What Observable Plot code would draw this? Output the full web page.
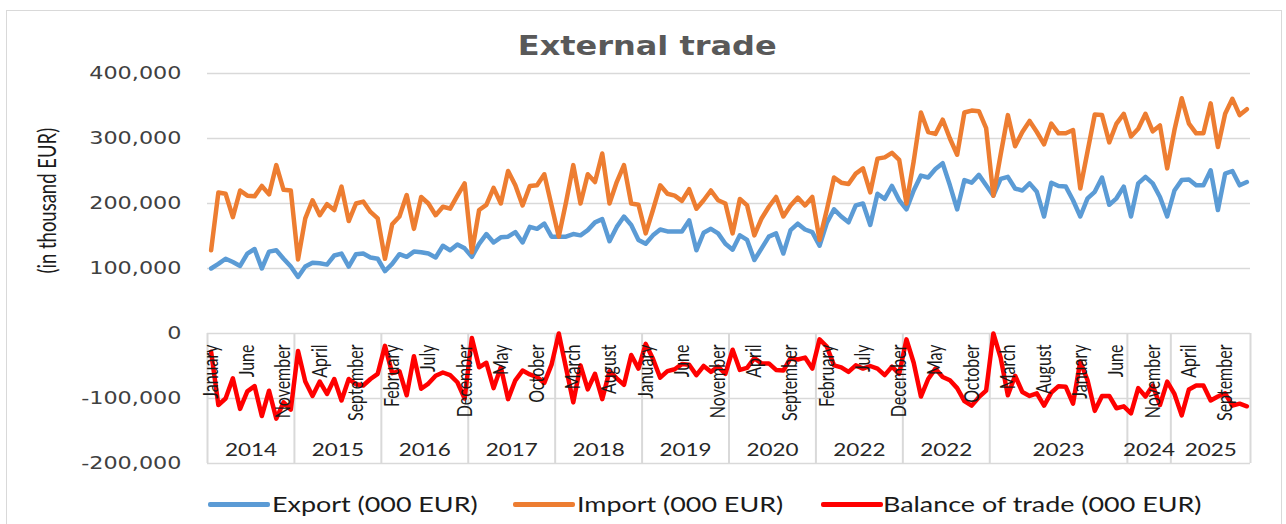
<!DOCTYPE html>
<html>
<head>
<meta charset="utf-8">
<script src="https://cdn.jsdelivr.net/npm/d3@7"></script>
<script src="https://cdn.jsdelivr.net/npm/@observablehq/plot@0.6"></script>
<style>
  html, body { margin: 0; padding: 0; background: #fff; }
  #wrap { position: relative; width: 1286px; height: 524px; overflow: hidden; background: #fff; }
  #chart { position: absolute; left: 0; top: 0; }
  #frame { position: absolute; left: 6px; top: 10px; width: 1276px; height: 540px; border: 1.5px solid #d9d9d9; box-sizing: border-box; pointer-events: none; }
  #title { position: absolute; left: 4px; top: 33px; width: 1286px; text-align: center; font: bold 26px/26px "DejaVu Sans", sans-serif; color: #595959; }
  #title span { display: inline-block; transform: scaleX(1.23); transform-origin: center; }
  .lg-sw { position: absolute; top: 502px; height: 4.5px; width: 62px; border-radius: 2px; }
  .lg-tx { position: absolute; top: 492px; font: 21px/24px Lato, sans-serif; color: #1a1a1a; transform: scaleX(1.28); transform-origin: left center; white-space: nowrap; }
</style>
</head>
<body>
<div id="wrap">
  <div id="chart"></div>
  <div id="title"><span>External trade</span></div>
  <div id="legend"></div>
  <div id="frame"></div>
</div>
<script>
// Monthly values, thousand EUR (Jan 2014 ... 144 months)
const exportValues = [
  100000,107000,115000,110000,104000,123000,130000,100000,126000,128000,115000,103000,
  87000,103000,109000,108000,106000,120000,123000,103000,122000,123000,117000,115000,
  96000,107000,122000,118000,126000,125000,123000,117000,135000,128000,137000,131000,
  118000,138000,153000,140000,148000,149000,156000,140000,164000,161000,169000,149000,
  149000,149000,153000,151000,159000,171000,176000,142000,164000,180000,167000,144000,
  138000,151000,160000,157000,157000,157000,174000,128000,155000,161000,154000,138000,
  129000,151000,144000,113000,131000,149000,154000,123000,159000,169000,160000,156000,
  135000,170000,191000,180000,171000,197000,200000,167000,215000,207000,227000,205000,
  191000,220000,243000,240000,253000,262000,228000,191000,236000,232000,244000,228000,
  212000,238000,241000,223000,220000,231000,218000,180000,232000,227000,226000,205000,
  180000,208000,218000,240000,198000,208000,226000,180000,231000,241000,231000,210000,
  180000,220000,236000,237000,228000,228000,251000,190000,246000,250000,228000,233000
];
const importValues = [
  128000,217000,215000,179000,220000,212000,211000,227000,214000,259000,221000,220000,
  114000,177000,205000,182000,199000,190000,226000,173000,200000,203000,187000,177000,
  115000,168000,180000,213000,161000,210000,200000,182000,195000,192000,212000,231000,
  125000,190000,198000,224000,200000,250000,228000,197000,227000,228000,245000,197000,
  149000,202000,259000,200000,245000,233000,277000,200000,233000,259000,200000,198000,
  154000,190000,228000,215000,212000,204000,222000,192000,205000,220000,205000,200000,
  154000,207000,197000,151000,177000,195000,210000,180000,197000,209000,197000,210000,
  144000,190000,240000,232000,230000,246000,254000,217000,269000,271000,278000,267000,
  200000,265000,340000,310000,307000,329000,300000,275000,340000,343000,342000,316000,
  212000,275000,336000,288000,310000,327000,310000,291000,323000,308000,308000,313000,
  223000,280000,337000,336000,294000,323000,338000,303000,315000,338000,311000,320000,
  254000,313000,362000,323000,308000,308000,354000,287000,338000,361000,336000,345000
];
const balanceValues = [
  -28000,-110000,-100000,-69000,-116000,-89000,-81000,-127000,-88000,-131000,-106000,-117000,
  -27000,-74000,-96000,-74000,-93000,-70000,-103000,-70000,-78000,-80000,-70000,-62000,
  -19000,-61000,-58000,-95000,-35000,-85000,-77000,-65000,-60000,-64000,-75000,-100000,
  -7000,-52000,-45000,-84000,-52000,-101000,-72000,-57000,-63000,-67000,-76000,-48000,
  0,-53000,-106000,-49000,-86000,-62000,-101000,-58000,-69000,-79000,-33000,-54000,
  -16000,-39000,-68000,-58000,-55000,-47000,-48000,-64000,-50000,-59000,-51000,-62000,
  -25000,-56000,-53000,-38000,-46000,-46000,-56000,-57000,-38000,-40000,-37000,-54000,
  -9000,-20000,-49000,-52000,-59000,-49000,-54000,-50000,-54000,-64000,-51000,-62000,
  -9000,-45000,-97000,-70000,-54000,-67000,-72000,-84000,-104000,-111000,-98000,-88000,
  0,-37000,-95000,-65000,-90000,-96000,-92000,-111000,-91000,-81000,-82000,-108000,
  -43000,-72000,-119000,-96000,-96000,-115000,-112000,-123000,-84000,-97000,-80000,-110000,
  -74000,-93000,-126000,-86000,-80000,-80000,-103000,-97000,-92000,-111000,-108000,-112000
];
// Category axis labels (every 5th month shown)
const monthTickLabels = ["January","June","November","April","September","February","July","December","May","October",
  "March","August","January","June","November","April","September","February","July","December",
  "May","October","March","August","January","June","November","April","September"];
const monthTickStep = 5;
// Year groups as labelled in the source, with months per group
const yearLabels = ["2014","2015","2016","2017","2018","2019","2020","2022","2022","2023","2024","2025"];
const yearMonthCounts = [12,12,12,12,12,12,12,12,12,19,6,11];
const yTicks = [-200000,-100000,0,100000,200000,300000,400000];
const yTitle = "(in thousand EUR)";
const seriesNames = ["Export (000 EUR)","Import (000 EUR)","Balance of trade (000 EUR)"];
const seriesColors = ["#5B9BD5","#ED7D31","#FF0000"];

const n = exportValues.length;
const rows = exportValues.map((v, i) => ({i, exp: v, imp: importValues[i], bal: balanceValues[i]}));
const monthTicks = monthTickLabels.map((label, k) => ({i: k * monthTickStep, label}));
let acc = 0;
const groups = yearLabels.map((label, k) => {
  const start = acc; acc += yearMonthCounts[k];
  return {label, start, end: acc, mid: (start + acc) / 2};
});
const bounds = [0, ...groups.map(g => g.end)];
const axisAt = 0;

const lineOpts = {x: d => d.i + 0.5, strokeWidth: 4.5, strokeLinejoin: "round", strokeLinecap: "round"};

const chart = Plot.plot({
  width: 1286,
  height: 480,
  marginTop: 73,
  marginBottom: 17,
  marginLeft: 207,
  marginRight: 36,
  style: {fontFamily: "Lato, sans-serif", background: "transparent"},
  x: {domain: [0, n], axis: null},
  y: {domain: [-200000, 400000], axis: null},
  marks: [
    Plot.ruleY(yTicks, {stroke: "#d9d9d9", strokeWidth: 1.5}),
    Plot.ruleX(bounds, {x: d => d, y1: axisAt, y2: yTicks[0], stroke: "#d9d9d9", strokeWidth: 2}),
    Plot.line(rows, {...lineOpts, y: "exp", stroke: seriesColors[0]}),
    Plot.line(rows, {...lineOpts, y: "imp", stroke: seriesColors[1]}),
    Plot.line(rows, {...lineOpts, y: "bal", stroke: seriesColors[2]}),
    Plot.text(monthTicks, {x: d => d.i + 0.5, y: () => axisAt, text: "label", rotate: -90, textAnchor: "end",
      dy: 11, fontSize: 16, fill: "#1a1a1a"}),
    Plot.text(groups, {x: "mid", text: "label", frameAnchor: "bottom", lineAnchor: "bottom", dy: -8,
      fontSize: 17, fill: "#262626"}),
    Plot.axisY({ticks: yTicks, tickFormat: d => d.toLocaleString("en-US"), tickSize: 0, tickPadding: 26,
      fontSize: 18, fontFamily: "DejaVu Sans, sans-serif", fill: "#404040"}),
    Plot.text([yTitle], {frameAnchor: "left", dx: -160, dy: 5, rotate: -90, fontSize: 18.5, fill: "#1a1a1a"})
  ]
});
document.getElementById("chart").appendChild(chart);

// Horizontal stretch of the source rendering
const allText = Array.from(chart.querySelectorAll("text"));
const yearSet = new Set(yearLabels);
const monthSet = new Set(monthTickLabels);
const yTickSet = new Set(yTicks.map(d => d.toLocaleString("en-US")));
function stretchLen(t, f) {
  const w = t.getComputedTextLength();
  t.setAttribute("textLength", (w * f).toFixed(2));
  t.setAttribute("lengthAdjust", "spacingAndGlyphs");
}
allText.forEach(t => {
  const s = t.textContent;
  if (yTickSet.has(s)) stretchLen(t, 1.24);
  else if (yearSet.has(s)) stretchLen(t, 1.32);
  else if (monthSet.has(s) || s === yTitle) {
    const tr = t.getAttribute("transform") || "";
    t.setAttribute("transform", (tr + " scale(1,1.35)").trim());
  }
});

// Legend
const legend = document.getElementById("legend");
const swLeft = [208, 513, 821];
const txLeft = [272, 577, 883];
seriesNames.forEach((name, k) => {
  const sw = document.createElement("div");
  sw.className = "lg-sw";
  sw.style.left = swLeft[k] + "px";
  sw.style.background = seriesColors[k];
  legend.appendChild(sw);
  const tx = document.createElement("div");
  tx.className = "lg-tx";
  tx.style.left = txLeft[k] + "px";
  tx.textContent = name;
  legend.appendChild(tx);
});
</script>
</body>
</html>
